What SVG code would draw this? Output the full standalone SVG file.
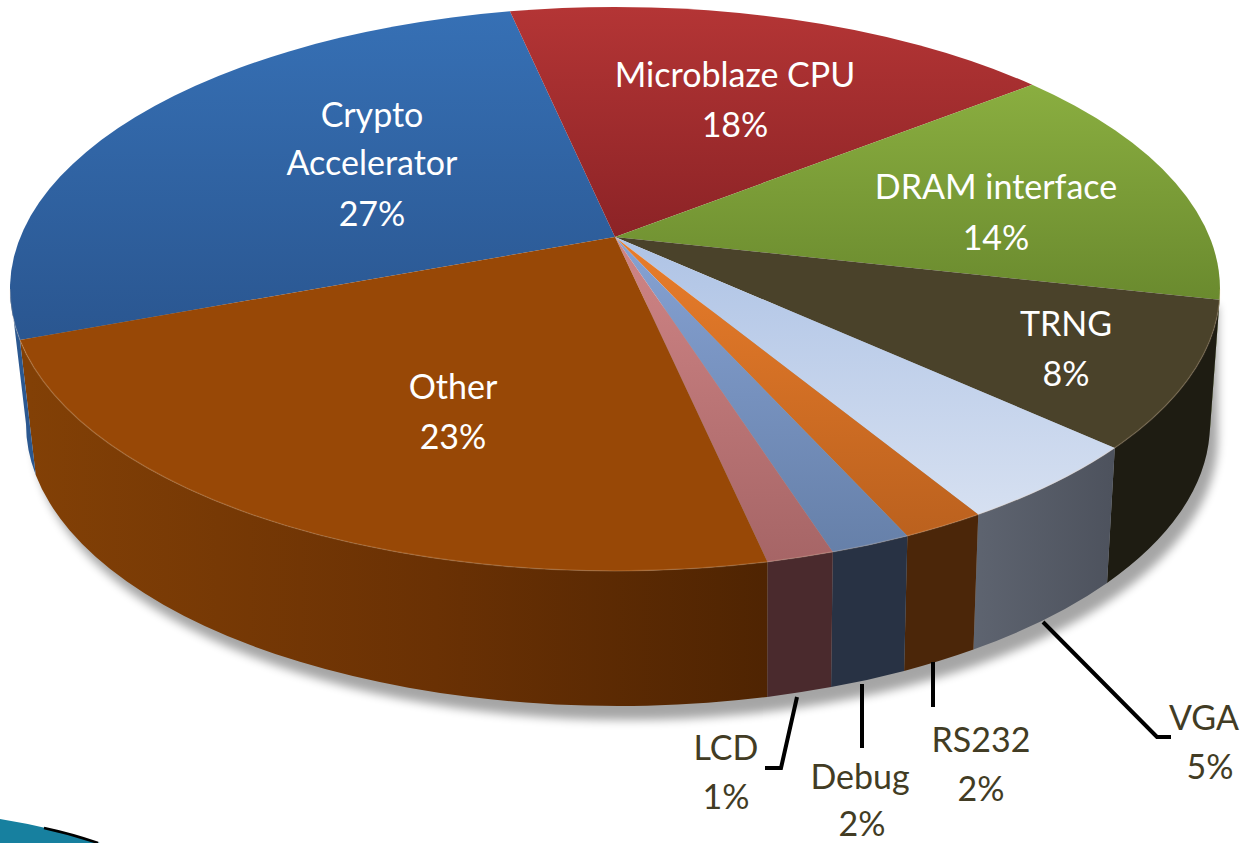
<svg xmlns="http://www.w3.org/2000/svg" width="1251" height="843" viewBox="0 0 1251 843">
  <defs>
    <style>
      .in { font-family: Lato, "Open Sans", "Liberation Sans", sans-serif; font-size: 34px; fill: #ffffff; text-anchor: middle; }
      .out { font-family: Lato, "Open Sans", "Liberation Sans", sans-serif; font-size: 34px; fill: #423c24; text-anchor: middle; }
      .lead { fill: none; stroke: #000000; stroke-width: 4; stroke-linejoin: miter; }
    </style>
    <filter id="soft" x="-10%" y="-10%" width="120%" height="130%">
      <feGaussianBlur stdDeviation="5"/>
    </filter>
    <!-- top-face shading -->
    <linearGradient id="gCrypto" x1="0" y1="0" x2="0" y2="1">
      <stop offset="0" stop-color="#3670b5"/><stop offset="1" stop-color="#2a5690"/>
    </linearGradient>
    <linearGradient id="gCpu" x1="0" y1="0" x2="0" y2="1">
      <stop offset="0" stop-color="#b43535"/><stop offset="1" stop-color="#8c2326"/>
    </linearGradient>
    <linearGradient id="gDram" x1="0" y1="0" x2="0" y2="1">
      <stop offset="0" stop-color="#8aae40"/><stop offset="1" stop-color="#6a8a2e"/>
    </linearGradient>
    <linearGradient id="gVga" x1="0" y1="0" x2="0" y2="1">
      <stop offset="0" stop-color="#aec3e5"/><stop offset="1" stop-color="#d6e0f1"/>
    </linearGradient>
    <linearGradient id="gRs" x1="0" y1="0" x2="0" y2="1">
      <stop offset="0" stop-color="#e97d2b"/><stop offset="1" stop-color="#bb611e"/>
    </linearGradient>
    <linearGradient id="gDbg" x1="0" y1="0" x2="0" y2="1">
      <stop offset="0" stop-color="#86a2d3"/><stop offset="1" stop-color="#6680a9"/>
    </linearGradient>
    <linearGradient id="gLcd" x1="0" y1="0" x2="0" y2="1">
      <stop offset="0" stop-color="#d08586"/><stop offset="1" stop-color="#a66566"/>
    </linearGradient>
    <!-- side shading -->
    <linearGradient id="sOther" gradientUnits="userSpaceOnUse" x1="30" y1="0" x2="768" y2="0">
      <stop offset="0" stop-color="#824006"/><stop offset="0.55" stop-color="#6a3104"/><stop offset="1" stop-color="#4f2402"/>
    </linearGradient>
    <linearGradient id="sVga" x1="0" y1="0" x2="1" y2="0">
      <stop offset="0" stop-color="#5e6470"/><stop offset="1" stop-color="#4d525d"/>
    </linearGradient>
  </defs>

  <rect width="1251" height="843" fill="#ffffff"/>

  <!-- soft drop shadow under the disc -->
  <path d="M 1214 300 L 1214 432 A 592 282 0 0 1 30 432 L 22 300 Z" fill="#000000" opacity="0.35" filter="url(#soft)" transform="translate(4 6)"/>

  <!-- rim of the disc -->
  <g id="rim">
    <path d="M 1220 289 A 605 282 0 0 1 1219.55 299.83 L 1209.56 434.83 A 592 282 0 0 0 1210 424 Z" fill="#5a7424"/>
    <path d="M 1219.55 299.83 A 605 282 0 0 1 1114.78 447.92 L 1107.04 582.92 A 592 282 0 0 0 1209.56 434.83 Z" fill="#1e1c12"/>
    <path d="M 1114.78 447.92 A 605 282 0 0 1 978.25 514.51 L 973.45 649.51 A 592 282 0 0 0 1107.04 582.92 Z" fill="url(#sVga)"/>
    <path d="M 978.25 514.51 A 605 282 0 0 1 907.38 535.88 L 904.10 670.88 A 592 282 0 0 0 973.45 649.51 Z" fill="#4b2609"/>
    <path d="M 907.38 535.88 A 605 282 0 0 1 832.77 552.10 L 831.09 687.10 A 592 282 0 0 0 904.10 670.88 Z" fill="#283244"/>
    <path d="M 832.77 552.10 A 605 282 0 0 1 767.50 561.89 L 767.23 696.89 A 592 282 0 0 0 831.09 687.10 Z" fill="#4a2a2d"/>
    <path d="M 767.50 561.89 A 605 282 0 0 1 19.94 339.91 L 35.73 474.91 A 592 282 0 0 0 767.23 696.89 Z" fill="url(#sOther)"/>
    <path d="M 19.94 339.91 A 605 282 0 0 1 10 289 L 26 424 A 592 282 0 0 0 35.73 474.91 Z" fill="#2b5890"/>
  </g>

  <!-- top faces of the slices -->
  <g id="slice-crypto"><path d="M 615 237 L 19.94 339.91 A 605 282 0 0 1 509.94 11.28 Z" fill="url(#gCrypto)"/></g>
  <g id="slice-cpu"><path d="M 615 237 L 509.94 11.28 A 605 282 0 0 1 1032.22 84.78 Z" fill="url(#gCpu)"/></g>
  <g id="slice-dram"><path d="M 615 237 L 1032.22 84.78 A 605 282 0 0 1 1219.55 299.83 Z" fill="url(#gDram)"/></g>
  <g id="slice-trng"><path d="M 615 237 L 1219.55 299.83 A 605 282 0 0 1 1114.78 447.92 Z" fill="#4a422a"/></g>
  <g id="slice-vga"><path d="M 615 237 L 1114.78 447.92 A 605 282 0 0 1 978.25 514.51 Z" fill="url(#gVga)"/></g>
  <g id="slice-rs232"><path d="M 615 237 L 978.25 514.51 A 605 282 0 0 1 907.38 535.88 Z" fill="url(#gRs)"/></g>
  <g id="slice-debug"><path d="M 615 237 L 907.38 535.88 A 605 282 0 0 1 832.77 552.10 Z" fill="url(#gDbg)"/></g>
  <g id="slice-lcd"><path d="M 615 237 L 832.77 552.10 A 605 282 0 0 1 767.50 561.89 Z" fill="url(#gLcd)"/></g>
  <g id="slice-other"><path d="M 615 237 L 767.50 561.89 A 605 282 0 0 1 19.94 339.91 Z" fill="#984806"/></g>

  <!-- bevel highlight along the front edge of the top face -->
  <path d="M 1220 289 A 605 282 0 0 1 10 289" fill="none" stroke="#ffd9b0" stroke-opacity="0.18" stroke-width="1.5"/>

  <!-- labels inside the slices -->
  <g id="label-crypto">
    <text class="in" x="372" y="127">Crypto</text>
    <text class="in" x="372" y="175">Accelerator</text>
    <text class="in" x="372" y="226">27%</text>
  </g>
  <g id="label-cpu">
    <text class="in" x="735" y="87">Microblaze CPU</text>
    <text class="in" x="735" y="137">18%</text>
  </g>
  <g id="label-dram">
    <text class="in" x="996" y="199">DRAM interface</text>
    <text class="in" x="996" y="250">14%</text>
  </g>
  <g id="label-trng">
    <text class="in" x="1066" y="336">TRNG</text>
    <text class="in" x="1066" y="386">8%</text>
  </g>
  <g id="label-other">
    <text class="in" x="453" y="399">Other</text>
    <text class="in" x="453" y="449">23%</text>
  </g>

  <!-- leader lines to the outside labels -->
  <g id="leaders">
    <path class="lead" d="M 797 697 L 781 768 L 765 768"/>
    <path class="lead" d="M 862 684 L 862 748"/>
    <path class="lead" d="M 933 662 L 933 707"/>
    <path class="lead" d="M 1043 622 L 1157 737 L 1171 737"/>
  </g>

  <g id="label-lcd">
    <text class="out" x="726" y="760">LCD</text>
    <text class="out" x="726" y="809">1%</text>
  </g>
  <g id="label-debug">
    <text class="out" x="860" y="789">Debug</text>
    <text class="out" x="862" y="836">2%</text>
  </g>
  <g id="label-rs232">
    <text class="out" x="981" y="752">RS232</text>
    <text class="out" x="981" y="801">2%</text>
  </g>
  <g id="label-vga">
    <text class="out" x="1204" y="730">VGA</text>
    <text class="out" x="1210" y="779">5%</text>
  </g>

  <!-- slide bullet corner -->
  <path d="M 0 819 Q 50 827 100 843 L 0 843 Z" fill="#17809f"/>
  <path d="M 44 828 Q 72 834 98 843" fill="none" stroke="#000000" stroke-width="2.5"/>
</svg>
